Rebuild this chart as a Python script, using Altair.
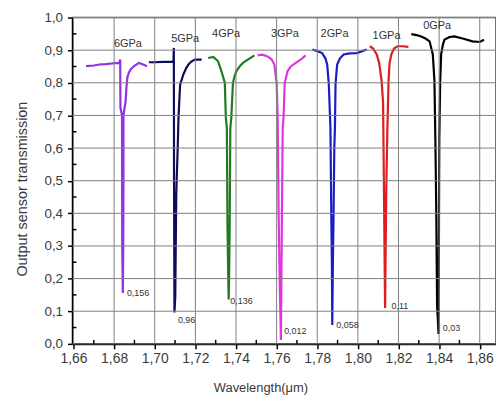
import altair as alt
import pandas as pd

# ---- data ----
wl_6 = [1.6662, 1.6700, 1.6727, 1.6760, 1.6800, 1.6826, 1.6830, 1.6831, 1.6839, 1.6840, 1.6843, 1.6845, 1.6846, 1.6846, 1.6852, 1.6857, 1.6860, 1.6865, 1.6872, 1.6881, 1.6900, 1.6922, 1.6940, 1.6962]
tr_6 = [0.851, 0.853, 0.856, 0.857, 0.860, 0.861, 0.871, 0.724, 0.700, 0.300, 0.156, 0.300, 0.500, 0.700, 0.725, 0.745, 0.780, 0.816, 0.830, 0.841, 0.852, 0.861, 0.857, 0.851]

wl_5 = [1.6971, 1.7000, 1.7040, 1.7084, 1.7092, 1.7094, 1.7095, 1.7097, 1.7101, 1.7106, 1.7113, 1.7117, 1.7119, 1.7125, 1.7133, 1.7141, 1.7155, 1.7166, 1.7180, 1.7198, 1.7231]
tr_5 = [0.863, 0.863, 0.864, 0.864, 0.864, 0.907, 0.500, 0.096, 0.143, 0.460, 0.600, 0.694, 0.720, 0.795, 0.810, 0.826, 0.845, 0.856, 0.865, 0.871, 0.871]

wl_4 = [1.7263, 1.7288, 1.7312, 1.7328, 1.7345, 1.7350, 1.7355, 1.7358, 1.7362, 1.7364, 1.7366, 1.7369, 1.7372, 1.7377, 1.7385, 1.7393, 1.7402, 1.7420, 1.7434, 1.7460, 1.7491]
tr_4 = [0.876, 0.879, 0.866, 0.836, 0.800, 0.694, 0.660, 0.370, 0.200, 0.136, 0.200, 0.370, 0.660, 0.694, 0.800, 0.820, 0.836, 0.852, 0.861, 0.872, 0.884]

wl_3 = [1.7507, 1.7530, 1.7556, 1.7575, 1.7589, 1.7600, 1.7605, 1.7610, 1.7614, 1.7619, 1.7621, 1.7624, 1.7626, 1.7630, 1.7634, 1.7640, 1.7654, 1.7670, 1.7694, 1.7720, 1.7743]
tr_3 = [0.884, 0.886, 0.881, 0.872, 0.856, 0.800, 0.694, 0.400, 0.230, 0.080, 0.012, 0.230, 0.390, 0.660, 0.694, 0.800, 0.836, 0.850, 0.861, 0.872, 0.884]

wl_2 = [1.7776, 1.7800, 1.7824, 1.7840, 1.7849, 1.7857, 1.7865, 1.7869, 1.7872, 1.7874, 1.7877, 1.7880, 1.7884, 1.7887, 1.7890, 1.7898, 1.7912, 1.7930, 1.7960, 1.7995, 1.8044]
tr_2 = [0.902, 0.897, 0.891, 0.875, 0.856, 0.795, 0.659, 0.400, 0.250, 0.058, 0.250, 0.380, 0.600, 0.660, 0.795, 0.856, 0.875, 0.887, 0.890, 0.891, 0.902]

wl_1 = [1.8059, 1.8075, 1.8093, 1.8105, 1.8117, 1.8124, 1.8128, 1.8131, 1.8134, 1.8137, 1.8140, 1.8145, 1.8151, 1.8156, 1.8165, 1.8178, 1.8195, 1.8220, 1.8249]
tr_1 = [0.912, 0.905, 0.887, 0.860, 0.805, 0.740, 0.500, 0.300, 0.110, 0.300, 0.480, 0.650, 0.805, 0.860, 0.887, 0.905, 0.912, 0.912, 0.910]

wl_0 = [1.8263, 1.8290, 1.8312, 1.8335, 1.8353, 1.8369, 1.8377, 1.8382, 1.8386, 1.8390, 1.8395, 1.8397, 1.8399, 1.8400, 1.8401, 1.8405, 1.8410, 1.8418, 1.8426, 1.8450, 1.8475, 1.8520, 1.8564, 1.8600, 1.8621]
tr_0 = [0.949, 0.946, 0.942, 0.935, 0.927, 0.887, 0.805, 0.603, 0.400, 0.116, 0.060, 0.030, 0.300, 0.500, 0.633, 0.800, 0.887, 0.915, 0.932, 0.940, 0.942, 0.935, 0.927, 0.925, 0.932]

series_names = ["6GPa", "5GPa", "4GPa", "3GPa", "2GPa", "1GPa", "0GPa"]
series_colors = ["#9331e3", "#0c0c5c", "#1f7a1f", "#e133e1", "#1c1cc4", "#e01c1c", "#000000"]

gpa_x = [1.6868, 1.7150, 1.7351, 1.7641, 1.7885, 1.8141, 1.8390]
gpa_y = [0.918, 0.935, 0.950, 0.950, 0.950, 0.944, 0.973]

min_labels = ["0,156", "0,96", "0,136", "0,012", "0,058", "0,11", "0,03"]
min_x = [1.6863, 1.7114, 1.7372, 1.7637, 1.7894, 1.8166, 1.8418]
min_y = [0.157, 0.074, 0.130, 0.040, 0.058, 0.116, 0.049]

x_major = [1.66, 1.68, 1.70, 1.72, 1.74, 1.76, 1.78, 1.80, 1.82, 1.84, 1.86]
x_minor = [1.67, 1.69, 1.71, 1.73, 1.75, 1.77, 1.79, 1.81, 1.83, 1.85]
y_major = [0.0, 0.1, 0.2, 0.3, 0.4, 0.5, 0.6, 0.7, 0.8, 0.9, 1.0]
y_minor = [0.05, 0.15, 0.25, 0.35, 0.45, 0.55, 0.65, 0.75, 0.85, 0.95]

# ---- tables ----
rows = []
for name, wls, trs in zip(series_names, [wl_6, wl_5, wl_4, wl_3, wl_2, wl_1, wl_0],
                          [tr_6, tr_5, tr_4, tr_3, tr_2, tr_1, tr_0]):
    for i, (w, t) in enumerate(zip(wls, trs)):
        rows.append({"series": name, "wl": w, "tr": t, "idx": i})
df = pd.DataFrame(rows)

gpa_df = pd.DataFrame({"label": series_names, "wl": gpa_x, "tr": gpa_y})
min_df = pd.DataFrame({"label": min_labels, "wl": min_x, "tr": min_y})
xminor_df = pd.DataFrame({"wl": x_minor})
yminor_df = pd.DataFrame({"tr": y_minor})
xgrid_df = pd.DataFrame({"wl": x_major})
ygrid_df = pd.DataFrame({"tr": y_major})

FONT = "Liberation Sans"
PLOT_W, PLOT_H = 427, 329
GRID = "#808080"
xscale = alt.Scale(domain=[1.6595, 1.868], nice=False, zero=False)
yscale = alt.Scale(domain=[0, 1.0], nice=False, zero=False)

x_axis = alt.Axis(
    values=x_major, format=".2f", labelExpr="replace(datum.label, '.', ',')",
    title="Wavelength(μm)", grid=False,
    domainColor="#000000", domainWidth=2,
    tickColor="#000000", tickSize=5, tickWidth=1.5, labelPadding=3, labelFontSize=14,
    labelColor="#3a3a3a", labelFont=FONT, titleFont=FONT, titleFontSize=13,
    titleFontWeight="normal", titleColor="#3a3a3a",
    titleX=189.5, titleY=44, titleAlign="center", titleBaseline="middle",
    labelFlush=False, labelOverlap=False)
y_axis = alt.Axis(
    values=y_major, format=".1f", labelExpr="replace(datum.label, '.', ',')",
    title="Output sensor transmission", grid=False,
    domainColor="#000000", domainWidth=2,
    tickColor="#000000", tickSize=5, tickWidth=1.5, labelPadding=5, labelFontSize=13.5,
    labelColor="#3a3a3a", labelFont=FONT, titleFont=FONT, titleFontSize=14.5,
    titleFontWeight="normal", titleColor="#3a3a3a",
    titleX=-50, titleY=172.5, titleAngle=270, titleAlign="center", titleBaseline="middle",
    labelFlush=False, labelOverlap=False)

XN = lambda: alt.X("wl:Q", scale=xscale, axis=None)
YN = lambda: alt.Y("tr:Q", scale=yscale, axis=None)

# grid lines at the tick values (drawn first, beneath the curves)
xgrid = alt.Chart(xgrid_df).mark_rule(color=GRID, strokeWidth=1).encode(
    x=XN(), y=alt.value(0), y2=alt.value(PLOT_H),
)
ygrid = alt.Chart(ygrid_df).mark_rule(color=GRID, strokeWidth=1).encode(
    y=YN(), x=alt.value(0), x2=alt.value(PLOT_W),
)

lines = alt.Chart(df).mark_line(strokeWidth=2.2).encode(
    x=alt.X("wl:Q", scale=xscale, axis=x_axis),
    y=alt.Y("tr:Q", scale=yscale, axis=y_axis),
    color=alt.Color("series:N", scale=alt.Scale(domain=series_names, range=series_colors), legend=None),
    order=alt.Order("idx:Q"),
)

# inward minor ticks
xminor = alt.Chart(xminor_df).mark_rule(color="#000000", strokeWidth=1.5).encode(
    x=XN(), y=alt.value(PLOT_H), y2=alt.value(PLOT_H - 4),
)
yminor = alt.Chart(yminor_df).mark_rule(color="#000000", strokeWidth=1.5).encode(
    y=YN(), x=alt.value(0), x2=alt.value(4),
)

gpa_text = alt.Chart(gpa_df).mark_text(font=FONT, fontSize=11, color="#333333",
                                       align="center", baseline="middle").encode(
    x=XN(), y=YN(), text="label:N",
)

min_text = alt.Chart(min_df).mark_text(font=FONT, fontSize=9, color="#333333",
                                       align="left", baseline="middle").encode(
    x=XN(), y=YN(), text="label:N",
)

chart = alt.layer(lines, xgrid, ygrid, xminor, yminor, gpa_text, min_text).resolve_axis(
    x="independent", y="independent"
).properties(
    width=PLOT_W, height=PLOT_H,
    autosize=alt.AutoSizeParams(type="none"),
    padding={"left": 65, "top": 8, "right": 0, "bottom": 55},
    background="#ffffff",
).configure_view(stroke="#444444", strokeWidth=1.5)

chart.save("out.html", embed_options={"renderer": "svg", "actions": False})
